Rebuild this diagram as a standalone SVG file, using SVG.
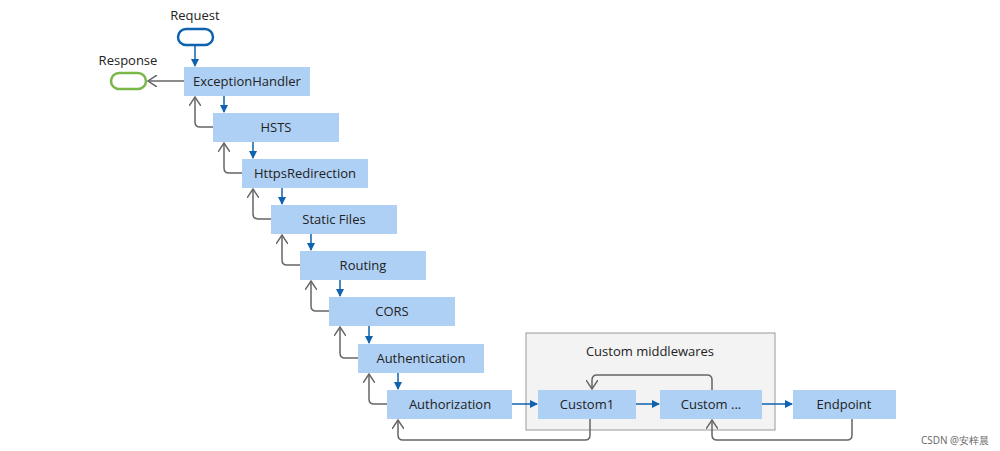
<svg xmlns="http://www.w3.org/2000/svg" width="1000" height="451" viewBox="0 0 1000 451">
<defs>
<style>
text{font-family:"Segoe UI","Open Sans","Noto Sans",sans-serif;font-size:13px;fill:#222}
.box{fill:#afd0f5}
.blue{stroke:#0f62ae;stroke-width:1.5;fill:none}
.grey{stroke:#666;stroke-width:1.5;fill:none}
</style>
<marker id="ab" markerWidth="8" markerHeight="8" refX="7" refY="4" orient="auto" markerUnits="userSpaceOnUse"><path d="M0,0 L8,4 L0,8 z" fill="#0f62ae"/></marker>
<marker id="ag" markerWidth="10" markerHeight="12" refX="9" refY="6" orient="auto" markerUnits="userSpaceOnUse"><path d="M0,0 L9,6 L0,12" fill="none" stroke="#666" stroke-width="1.5"/></marker>
</defs>
<rect width="1000" height="451" fill="#fff"/>
<g id="group"><rect x="526" y="333" width="249" height="97" fill="#f3f3f3" stroke="#999"/><text x="650" y="356" text-anchor="middle">Custom middlewares</text></g>
<g id="request"><text x="195" y="20" text-anchor="middle">Request</text><rect x="178" y="29" width="35" height="16" rx="8" fill="#fff" stroke="#0f62ae" stroke-width="2.5"/></g>
<g id="response"><text x="128" y="65" text-anchor="middle">Response</text><rect x="111" y="73" width="35" height="16" rx="8" fill="#fff" stroke="#7ab648" stroke-width="2.5"/></g>
<g id="n1"><rect class="box" x="184" y="67" width="126" height="29"/><text x="247" y="86" text-anchor="middle">ExceptionHandler</text></g>
<g id="n2"><rect class="box" x="213" y="113" width="126" height="29"/><text x="276" y="132" text-anchor="middle">HSTS</text></g>
<g id="n3"><rect class="box" x="242" y="159" width="126" height="29"/><text x="305" y="178" text-anchor="middle">HttpsRedirection</text></g>
<g id="n4"><rect class="box" x="271" y="205" width="126" height="29"/><text x="334" y="224" text-anchor="middle">Static Files</text></g>
<g id="n5"><rect class="box" x="300" y="251" width="126" height="29"/><text x="363" y="270" text-anchor="middle">Routing</text></g>
<g id="n6"><rect class="box" x="329" y="297" width="126" height="29"/><text x="392" y="316" text-anchor="middle">CORS</text></g>
<g id="n7"><rect class="box" x="358" y="344" width="126" height="29"/><text x="421" y="363" text-anchor="middle">Authentication</text></g>
<g id="n8"><rect class="box" x="387" y="390" width="125" height="29"/><text x="450" y="409" text-anchor="middle">Authorization</text></g>
<g id="c1"><rect class="box" x="538" y="390" width="98" height="29"/><text x="587" y="409" text-anchor="middle">Custom1</text></g>
<g id="c2"><rect class="box" x="660" y="390" width="102" height="29"/><text x="711" y="409" text-anchor="middle">Custom ...</text></g>
<g id="ep"><rect class="box" x="793" y="390" width="103" height="29"/><text x="844" y="409" text-anchor="middle">Endpoint</text></g>
<g id="connectors">
<path class="blue" d="M195,45 V66" marker-end="url(#ab)"/>
<path class="grey" d="M184,81 H148" marker-end="url(#ag)"/>
<path class="blue" d="M224,96 V112" marker-end="url(#ab)"/>
<path class="blue" d="M253,142 V158" marker-end="url(#ab)"/>
<path class="blue" d="M282,188 V204" marker-end="url(#ab)"/>
<path class="blue" d="M311,234 V250" marker-end="url(#ab)"/>
<path class="blue" d="M340,280 V296" marker-end="url(#ab)"/>
<path class="blue" d="M369,326 V343" marker-end="url(#ab)"/>
<path class="blue" d="M398,373 V389" marker-end="url(#ab)"/>
<path class="grey" d="M213,127 H200 Q195,127 195,122 V97" marker-end="url(#ag)"/>
<path class="grey" d="M242,173 H229 Q224,173 224,168 V143" marker-end="url(#ag)"/>
<path class="grey" d="M271,219 H258 Q253,219 253,214 V189" marker-end="url(#ag)"/>
<path class="grey" d="M300,265 H287 Q282,265 282,260 V235" marker-end="url(#ag)"/>
<path class="grey" d="M329,311 H316 Q311,311 311,306 V281" marker-end="url(#ag)"/>
<path class="grey" d="M358,358 H345 Q340,358 340,353 V327" marker-end="url(#ag)"/>
<path class="grey" d="M387,404 H374 Q369,404 369,399 V374" marker-end="url(#ag)"/>
<path class="blue" d="M512,404 H537" marker-end="url(#ab)"/>
<path class="blue" d="M636,404 H659" marker-end="url(#ab)"/>
<path class="blue" d="M762,404 H792" marker-end="url(#ab)"/>
<path class="grey" d="M590,419 V435 Q590,440 585,440 H403 Q398,440 398,435 V420" marker-end="url(#ag)"/>
<path class="grey" d="M852,419 V435 Q852,440 847,440 H717 Q712,440 712,435 V420" marker-end="url(#ag)"/>
<path class="grey" d="M712,390 V380 Q712,375 707,375 H597 Q592,375 592,380 V389" marker-end="url(#ag)"/>
</g>
<text x="955" y="444" text-anchor="middle" style="font-size:10px;fill:#666">CSDN @安梓晨</text>
</svg>
